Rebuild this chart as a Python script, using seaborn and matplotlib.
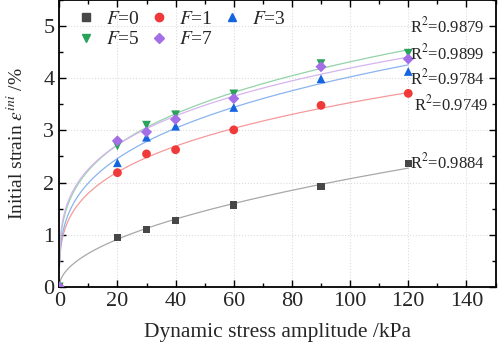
import numpy as np
import pandas as pd
import seaborn as sns
import matplotlib
matplotlib.use("Agg")
import matplotlib.pyplot as plt
from matplotlib.ticker import MultipleLocator

sns.set_theme(style="ticks")
plt.rcParams['font.family'] = ['Liberation Serif', 'DejaVu Serif']
plt.rcParams['mathtext.fontset'] = 'stix'

stress = [0, 20, 30, 40, 60, 90, 120]
labels = ["F=0", "F=1", "F=3", "F=5", "F=7"]
f0 = [0, 0.95, 1.10, 1.27, 1.57, 1.93, 2.37]
f1 = [0, 2.19, 2.55, 2.63, 3.01, 3.48, 3.71]
f3 = [0, 2.38, 2.87, 3.08, 3.44, 3.99, 4.13]
f5 = [0, 2.70, 3.10, 3.30, 3.70, 4.28, 4.48]
f7 = [0, 2.80, 2.97, 3.21, 3.61, 4.22, 4.37]
r2_text = ["R$^2$=0.9884", "R$^2$=0.9749", "R$^2$=0.9784", "R$^2$=0.9879", "R$^2$=0.9899"]
r2_pos = [(120.5, 2.39), (122, 3.5), (120.5, 4.0), (120.5, 5.0), (120.5, 4.48)]

series = [f0, f1, f3, f5, f7]
colors = ["#474747", "#f03a3a", "#1464e0", "#2aa35a", "#a46ee6"]
line_colors = ["#a8a8a8", "#f59a9a", "#8ab4ee", "#93d3a8", "#d6b4f0"]
markers = ["s", "o", "^", "v", "D"]
sizes = [28, 40, 40, 40, 32]

rows = []
for lab, vals in zip(labels, series):
    for x, y in zip(stress, vals):
        rows.append({"stress": x, "strain": y, "F": lab})
df = pd.DataFrame(rows)

fig = plt.figure(figsize=(4.98, 3.44), dpi=100)
ax = fig.add_axes([0.119, 0.166, 0.876, 0.834])

# power-law fit curves
xs = np.linspace(0.05, 120, 400)
for vals, lc in zip(series, line_colors):
    x = np.array(stress[1:], float)
    y = np.array(vals[1:], float)
    b, la = np.polyfit(np.log(x), np.log(y), 1)
    ax.plot(xs, np.exp(la) * xs ** b, color=lc, lw=0.9, zorder=2)

pal = dict(zip(labels, colors))
mk = dict(zip(labels, markers))
for lab, s in zip(labels, sizes):
    sub = df[df.F == lab]
    sns.scatterplot(data=sub, x="stress", y="strain", color=pal[lab], marker=mk[lab],
                    s=s, edgecolor="none", ax=ax, zorder=3, label=None)

for t, (px, py) in zip(r2_text, r2_pos):
    ax.text(px, py, t, fontsize=12, va="center", ha="left")

ax.set_xlim(0, 150)
ax.set_ylim(0, 5.5)
ax.xaxis.set_major_locator(MultipleLocator(20))
ax.xaxis.set_minor_locator(MultipleLocator(10))
ax.yaxis.set_major_locator(MultipleLocator(1))
ax.yaxis.set_minor_locator(MultipleLocator(0.5))
ax.tick_params(which="both", direction="in", top=True, right=True, labeltop=False,
               labelright=False, labelsize=16, width=1, color="black")
ax.tick_params(which="major", length=5)
ax.tick_params(which="minor", length=3)
ax.grid(True, which="major", color="#dcdcdc", linestyle=":", lw=0.8)
for sp in ax.spines.values():
    sp.set_color("black")
    sp.set_linewidth(1.3)
ax.set_xlabel("Dynamic stress amplitude /kPa", fontsize=15.5, labelpad=9)
ax.set_ylabel(r"Initial strain $\varepsilon^{ini}$ /%", fontsize=14, labelpad=12)

handles = [plt.Line2D([], [], ls="none", marker=m, color=c, markersize=6 if m != "D" else 5.5)
           for m, c in zip(markers, colors)]
leg_labels = [r"$\mathit{F}$=0", r"$\mathit{F}$=1", r"$\mathit{F}$=3", r"$\mathit{F}$=5", r"$\mathit{F}$=7"]
order = [0, 3, 1, 4, 2]
ax.legend([handles[i] for i in order], [leg_labels[i] for i in order], ncol=3,
          loc="upper left", frameon=False, fontsize=14,
          bbox_to_anchor=(0.0, 1.025), handletextpad=0.5, columnspacing=0.5,
          labelspacing=0.15, handlelength=1.0)

fig.savefig("out.png", dpi=100)
